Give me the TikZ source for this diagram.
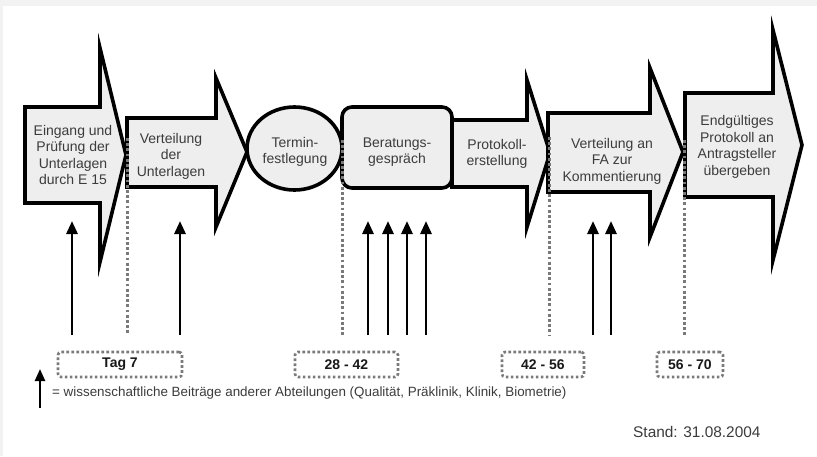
\documentclass[tikz,border=0pt]{standalone}
\usepackage{fontspec}
\setmainfont{Liberation Sans}
\usetikzlibrary{arrows.meta}
\definecolor{shapefill}{HTML}{EEEEEE}
\definecolor{txt}{HTML}{3C3C3C}
\definecolor{dotc}{HTML}{7A7A7A}
\definecolor{framec}{HTML}{F2F2F2}
\tikzset{
  stepshape/.style={draw=black, fill=shapefill, line width=3.6pt, line join=miter, miter limit=20},
  steptext/.style={align=center, text=txt, font=\fontsize{14}{16.5}\selectfont, inner sep=0pt},
  guide/.style={draw=dotc, line width=3pt, dash pattern=on 2.8pt off 2.4pt},
  daybox/.style={draw=dotc, line width=2.6pt, dash pattern=on 2.6pt off 2.4pt, rounded corners=3pt, fill=white,
    minimum height=25pt, inner sep=0pt, font=\bfseries\fontsize{14}{16}\selectfont, text=black!90},
  contrib/.style={draw=black, line width=2.8pt, -{Triangle[width=11pt,length=13pt]}},
}
\begin{document}
\begin{tikzpicture}[x=1pt,y=-1pt]
\useasboundingbox (0,0) rectangle (817,456);
\fill[framec] (0,0) rectangle (817,456);
\fill[white] (3,6) rectangle (817,456);

% process shapes
\draw[stepshape] (25,107) -- (100,107) -- (100,48) -- (126,155) -- (100,262) -- (100,203) -- (25,203) -- cycle;
\draw[stepshape] (127,118) -- (216,118) -- (216,78) -- (247,152) -- (216,227) -- (216,187) -- (127,187) -- cycle;
\draw[stepshape] (294.5,148.5) ellipse [x radius=47.5, y radius=41.5];
\draw[stepshape, rounded corners=10pt] (342,107) rectangle (452,188);
\draw[stepshape] (452,120) -- (527,120) -- (527,80) -- (550,153) -- (527,227) -- (527,187) -- (452,187) -- cycle;
\draw[stepshape] (548,113) -- (650,113) -- (650,68) -- (683,152) -- (650,237) -- (650,192) -- (548,192) -- cycle;
\draw[stepshape] (685,93) -- (773,93) -- (773,30) -- (802,145) -- (773,260) -- (773,197) -- (685,197) -- cycle;

% texts
\node[steptext] (s1) at (73,155) {Eingang und\\Prüfung der\\Unterlagen\\durch E 15};
\node[steptext] (s2) at (171,156) {Verteilung\\der\\Unterlagen};
\node[steptext] (s3) at (295,152) {Termin-\\festlegung};
\node[steptext] (s4) at (397,152) {Beratungs-\\gespräch};
\node[steptext] (s5) at (497,154) {Protokoll-\\erstellung};
\node[steptext] (s6) at (612,161) {Verteilung an\\FA zur\\Kommentierung};
\node[steptext] (s7) at (737,147) {Endgültiges\\Protokoll an\\Antragsteller\\übergeben};

% dotted guides
\coordinate (g1a) at (127,138); \coordinate (g1b) at (127,335);
\coordinate (g2a) at (342,140); \coordinate (g2b) at (342,335);
\coordinate (g3a) at (549,137); \coordinate (g3b) at (549,335);
\coordinate (g4a) at (684,140); \coordinate (g4b) at (684,335);
\draw[guide] (g1a) -- (g1b);
\draw[guide] (g2a) -- (g2b);
\draw[guide] (g3a) -- (g3b);
\draw[guide] (g4a) -- (g4b);

% day boxes
\node[daybox, minimum width=124pt] (d1) at (120,364.5) {Tag 7};
\node[daybox, minimum width=103pt] (d2) at (346.5,364.5) {28 - 42};
\node[daybox, minimum width=82pt] (d3) at (543,364.5) {42 - 56};
\node[daybox, minimum width=66pt] (d4) at (690,364.5) {56 - 70};

% contribution arrows
\foreach \n/\x in {a/72,b/180,c/368,d/388,e/407,f/426,g/593,h/611}{
  \coordinate (c\n0) at (\x,335);
  \coordinate (c\n1) at (\x,221);
  \draw[contrib] (c\n0) -- (c\n1);
}

% legend
\coordinate (l0) at (40,408);
\coordinate (l1) at (40,369);
\draw[draw=black, line width=2.4pt, -{Triangle[width=10pt,length=12pt]}] (l0) -- (l1);
\node[anchor=west, inner sep=0pt, text=txt, font=\fontsize{13.4}{16}\selectfont] (leg) at (52,393)
  {= wissenschaftliche Beiträge anderer Abteilungen (Qualität, Präklinik, Klinik, Biometrie)};
\node[anchor=west, inner sep=0pt, text=txt, font=\fontsize{15.4}{18}\selectfont] (stand) at (633,432)
  {Stand: 31.08.2004};
\end{tikzpicture}
\end{document}
